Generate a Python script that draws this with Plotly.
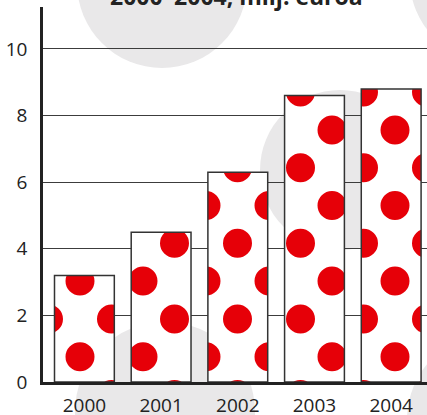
import math
import plotly.graph_objects as go

# ---- data ----
years = ["2000", "2001", "2002", "2003", "2004"]
values = [3.2, 4.5, 6.3, 8.6, 8.8]
y_tick_vals = [0, 2, 4, 6, 8, 10]
title_line = "2000–2004, milj. euroa"

# ---- geometry / style ----
W, H = 427, 415
PL, PT, PR, PB = 43, 7, 427, 382          # plot area (px)
X_RANGE = [-0.54, 4.467]
Y_RANGE = [0, 11.26]

RED = "#e60008"
GREY_BG = "#e9e8e9"
OUTLINE = "#333333"
AXIS = "#222222"
GRID = "#3c3c3c"
FONT = "Open Sans"
DOT_R = 14.5
BARGAP = 0.22


def dom_x(a, b):
    return [a / W, b / W]


def dom_y(top, bottom):
    return [(H - bottom) / H, (H - top) / H]


# polka-dot tile (staggered lattice), coordinates relative to plot-area origin
TILE = 378
COL = TILE / 12
ROW = TILE / 5
ax0, ay0 = 5.5, 9.5
parts = []
for k in range(-1, 14):
    cx = ax0 + k * COL
    base = ay0 + (0 if k % 2 == 0 else ROW / 2)
    for j in range(-1, 7):
        cy = base + j * ROW
        if -DOT_R <= cx <= TILE + DOT_R and -DOT_R <= cy <= TILE + DOT_R:
            r = DOT_R
            parts.append(f"M{cx - r:.2f},{cy:.2f}a{r},{r} 0 1,0 {2*r},0a{r},{r} 0 1,0 {-2*r},0Z")
dot_path = "".join(parts)

fig = go.Figure()
fig.add_bar(x=years, y=values, xaxis="x", yaxis="y",
            marker=dict(color="white", line=dict(color=OUTLINE, width=1.5),
                        pattern=dict(path=dot_path, size=TILE, solidity=0.5,
                                     fgcolor=RED, bgcolor="white", fillmode="replace")),
            hoverinfo="skip", showlegend=False)

# decorative grey discs (px: cx, cy, r)
discs = [(162, -17, 85), (490, -20, 80), (340, 170, 80), (165, 412, 90), (495, 420, 88)]
shapes = []
for cx, cy, r in discs:
    shapes.append(dict(type="circle", xref="paper", yref="paper", layer="below",
                       x0=(cx - r) / W, x1=(cx + r) / W,
                       y0=(H - (cy + r)) / H, y1=(H - (cy - r)) / H,
                       fillcolor=GREY_BG, line=dict(width=0)))

fig.update_layout(
    width=W, height=H,
    margin=dict(l=0, r=0, t=0, b=0, autoexpand=False),
    paper_bgcolor="white", plot_bgcolor="rgba(0,0,0,0)",
    bargap=BARGAP,
    shapes=shapes,
    xaxis=dict(domain=dom_x(PL, PR), range=X_RANGE, type="category", anchor="y",
               automargin=False,
               showline=True, linecolor=AXIS, linewidth=2.5, showgrid=False,
               ticks="", tickfont=dict(family=FONT, size=19, color=AXIS),
               ticklabelstandoff=4, fixedrange=True),
    yaxis=dict(domain=dom_y(PT, PB), range=Y_RANGE, anchor="x",
               automargin=False,
               tickvals=y_tick_vals, showgrid=True, gridcolor=GRID, gridwidth=1,
               showline=True, linecolor=AXIS, linewidth=2.5, zeroline=False,
               ticks="", tickfont=dict(family=FONT, size=19, color=AXIS),
               ticklabelstandoff=9, fixedrange=True),
    annotations=[dict(text="<b>" + title_line + "</b>", xref="paper", yref="paper",
                      x=237 / W, y=(H - 14) / H, xanchor="center", yanchor="bottom",
                      showarrow=False, font=dict(family=FONT, size=23, color=AXIS))],
)

fig.write_html("out.html", config={"displayModeBar": False},
               post_script="document.body.style.margin='0';document.body.style.overflow='hidden';")
